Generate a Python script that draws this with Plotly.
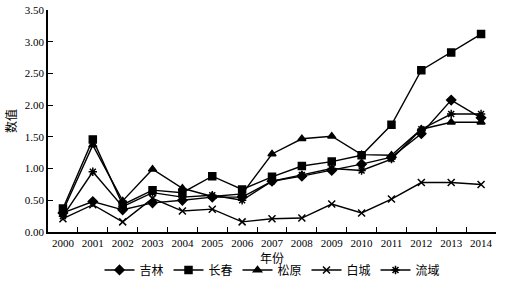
import plotly.graph_objects as go

years = [str(y) for y in range(2000, 2015)]
jilin = [0.30, 0.48, 0.35, 0.46, 0.50, 0.55, 0.55, 0.80, 0.88, 0.97, 1.07, 1.18, 1.55, 2.08, 1.80]
changchun = [0.37, 1.46, 0.43, 0.66, 0.62, 0.88, 0.67, 0.87, 1.04, 1.11, 1.21, 1.69, 2.55, 2.83, 3.12]
songyuan = [0.33, 1.37, 0.49, 0.99, 0.69, 0.56, 0.60, 1.23, 1.47, 1.51, 1.22, 1.21, 1.62, 1.73, 1.73]
baicheng = [0.21, 0.43, 0.16, 0.53, 0.33, 0.36, 0.16, 0.21, 0.22, 0.44, 0.30, 0.52, 0.78, 0.78, 0.75]
liuyu = [0.25, 0.95, 0.40, 0.62, 0.55, 0.58, 0.50, 0.80, 0.90, 1.00, 0.97, 1.15, 1.62, 1.86, 1.86]

names = ["吉林", "长春", "松原", "白城", "流域"]
series = [jilin, changchun, songyuan, baicheng, liuyu]
symbols = ["diamond", "square", "triangle-up", "x-thin-open", "asterisk-open"]
sizes = [7, 7, 7, 7, 7]

font_family = "Liberation Serif, Times New Roman, Noto Sans CJK SC, serif"

fig = go.Figure()
for n, s, sym, sz in zip(names, series, symbols, sizes):
    fig.add_trace(go.Scatter(
        x=years, y=s, name=n, mode="lines+markers",
        line=dict(color="black", width=1.4),
        marker=dict(symbol=sym, size=sz, color="black", line=dict(color="black", width=1.5)),
    ))

fig.update_layout(
    width=509, height=287,
    margin=dict(l=48, r=13, t=10, b=55, autoexpand=False),
    paper_bgcolor="white", plot_bgcolor="white",
    font=dict(family=font_family, size=12, color="black"),
    showlegend=True,
    legend=dict(orientation="h", x=0.5, xanchor="center", y=-0.171, yanchor="middle",
                font=dict(size=12, family="Noto Sans CJK SC"),
                itemwidth=30, tracegroupgap=0, entrywidth=24),
)
fig.update_xaxes(
    type="category", range=[-0.5, 14.5], tickson="boundaries",
    ticks="inside", ticklen=5, tickcolor="black", tickangle=0,
    showline=True, linecolor="black", linewidth=1.5, automargin=False,
    showgrid=False, tickfont=dict(size=11),
    title=dict(text="年份", font=dict(size=12, family="Noto Sans CJK SC"), standoff=0),
)
fig.update_yaxes(
    range=[0, 3.5], dtick=0.5, tickformat=".2f",
    ticks="inside", ticklen=5, tickcolor="black", automargin=False,
    showline=True, linecolor="black", linewidth=1.5,
    showgrid=False, zeroline=False, tickfont=dict(size=11),
    title=dict(text="数值", font=dict(size=12, family="Noto Sans CJK SC"), standoff=6),
)

fig.write_html("out.html", config={"displayModeBar": False},
               post_script="document.body.style.margin='0';")
